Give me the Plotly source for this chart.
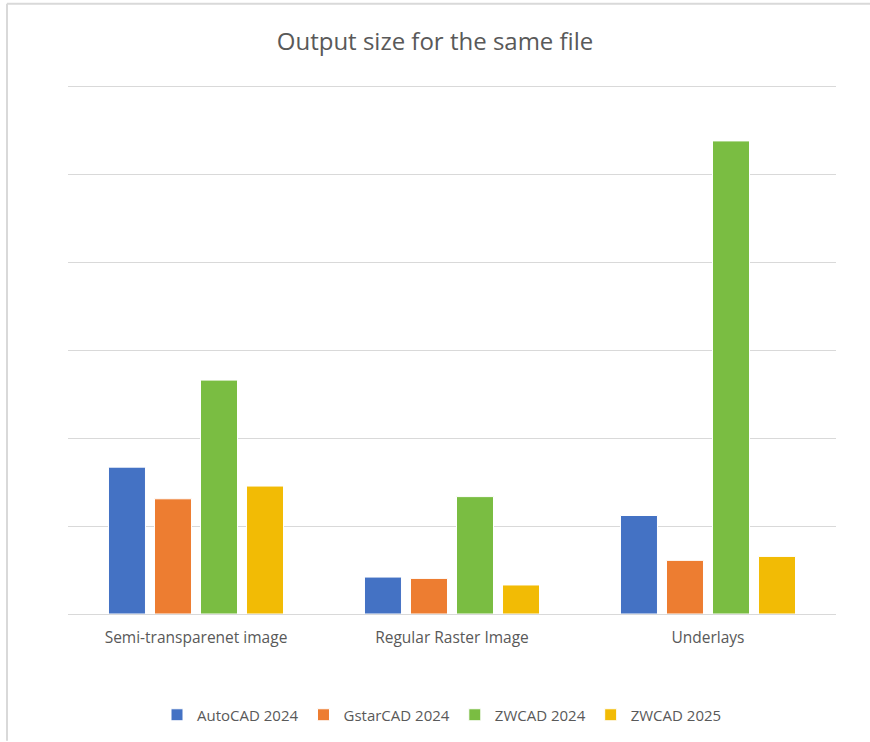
import plotly.graph_objects as go

categories = ["Semi-transparenet image", "Regular Raster Image", "Underlays"]
series_names = ["AutoCAD 2024", "GstarCAD 2024", "ZWCAD 2024", "ZWCAD 2025"]
autocad_2024 = [1.67, 0.42, 1.12]
gstarcad_2024 = [1.31, 0.405, 0.61]
zwcad_2024 = [2.66, 1.335, 5.38]
zwcad_2025 = [1.455, 0.33, 0.655]
colors = ["#4472C4", "#ED7D31", "#7ABD42", "#F2BB05"]

values = [autocad_2024, gstarcad_2024, zwcad_2024, zwcad_2025]

W, H = 870, 742
L, R, T, B = 68, 34, 82, 127
YMAX = 6.05

fig = go.Figure()
for name, vals, col in zip(series_names, values, colors):
    fig.add_trace(go.Bar(
        x=categories, y=vals, name=name,
        marker=dict(color=col, line=dict(color="white", width=1)),
    ))

pw, ph = W - L - R, H - T - B
def px_x(x):
    return (x - L) / pw
def px_y(y):
    return (H - B - y) / ph

fig.update_layout(
    width=W, height=H,
    margin=dict(l=L, r=R, t=T, b=B),
    paper_bgcolor="white", plot_bgcolor="white",
    barmode="group", bargap=0.281, bargroupgap=0.196,
    title=dict(text="Output size for the same file", x=0.5, xanchor="center",
               y=1 - 42 / H, yanchor="middle",
               font=dict(family="Open Sans", size=24, color="#595959")),
    font=dict(family="Open Sans", color="#595959"),
    xaxis=dict(showgrid=False, showline=True, linecolor="#d9d9d9", linewidth=1,
               ticks="", ticklabelstandoff=9,
               tickfont=dict(size=15.5, color="#595959")),
    yaxis=dict(range=[0, YMAX], dtick=1, showgrid=True, gridcolor="#d9d9d9",
               gridwidth=1, showticklabels=False, zeroline=False, showline=False),
    legend=dict(orientation="h", x=0.5 - 10 / pw, xanchor="center",
                y=px_y(715), yanchor="middle",
                font=dict(size=15, color="#595959"),
                itemwidth=30, tracegroupgap=0),
    showlegend=True,
    shapes=[
        dict(type="line", xref="paper", yref="paper",
             x0=px_x(7), x1=px_x(W), y0=px_y(3.5), y1=px_y(3.5),
             line=dict(color="#d9d9d9", width=2), layer="above"),
        dict(type="line", xref="paper", yref="paper",
             x0=px_x(7), x1=px_x(7), y0=px_y(3.5), y1=px_y(H),
             line=dict(color="#d9d9d9", width=2), layer="above"),
    ],
)

fig.write_html("out.html")
